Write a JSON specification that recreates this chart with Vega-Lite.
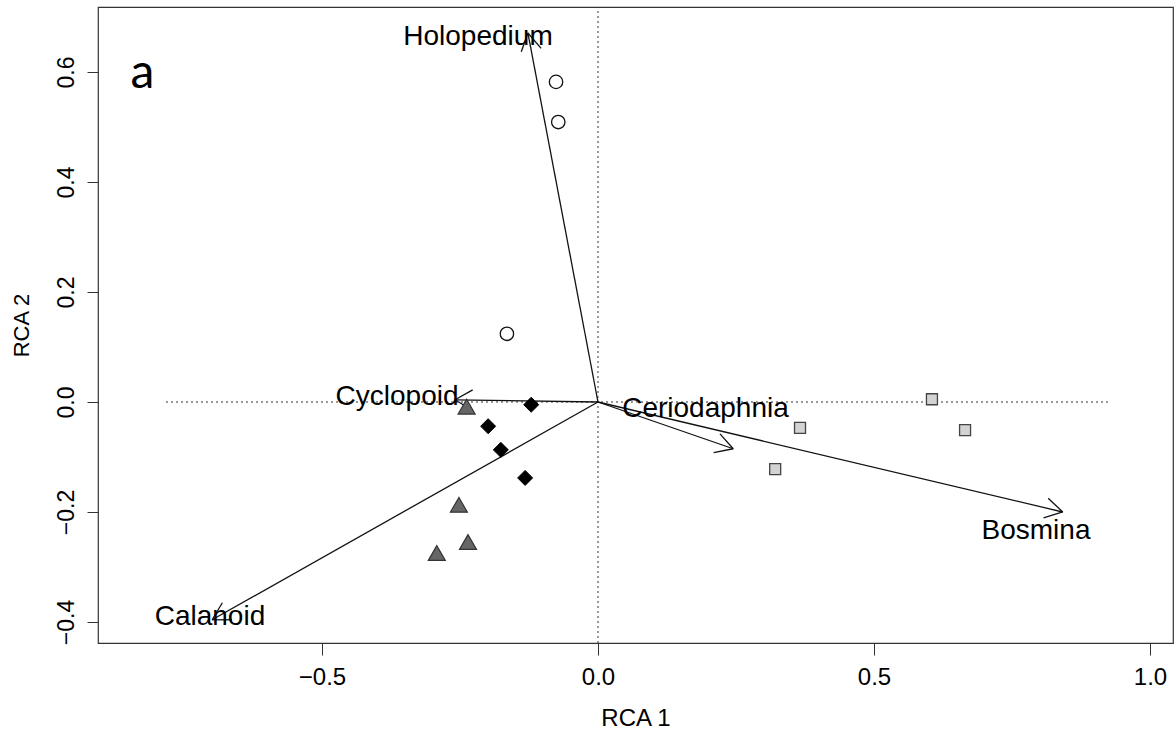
{
  "$schema": "https://vega.github.io/schema/vega-lite/v6.json",
  "width": 1075,
  "height": 636,
  "autosize": {"type": "none"},
  "padding": {"left": 98, "top": 7, "right": 2, "bottom": 91},
  "background": "white",
  "config": {
    "font": "Liberation Sans",
    "view": {"stroke": "#333", "strokeWidth": 1.2}
  },
  "datasets": {
    "sites": [
      {"group": "A", "x": -0.076, "y": 0.582},
      {"group": "A", "x": -0.072, "y": 0.509},
      {"group": "A", "x": -0.165, "y": 0.124},
      {"group": "B", "x": 0.605, "y": 0.005},
      {"group": "B", "x": 0.366, "y": -0.047},
      {"group": "B", "x": 0.665, "y": -0.051},
      {"group": "B", "x": 0.321, "y": -0.122},
      {"group": "C", "x": -0.121, "y": -0.005},
      {"group": "C", "x": -0.199, "y": -0.044},
      {"group": "C", "x": -0.176, "y": -0.087},
      {"group": "C", "x": -0.132, "y": -0.138},
      {"group": "D", "x": -0.238, "y": -0.0085},
      {"group": "D", "x": -0.252, "y": -0.187},
      {"group": "D", "x": -0.2355, "y": -0.2545},
      {"group": "D", "x": -0.292, "y": -0.2745}
    ],
    "vectors": [
      {"species": "Holopedium", "part": "shaft", "x": 0, "y": 0, "x2": -0.127, "y2": 0.671},
      {"species": "Holopedium", "part": "barb", "x": -0.127, "y": 0.671, "x2": -0.139, "y2": 0.637},
      {"species": "Holopedium", "part": "barb", "x": -0.127, "y": 0.671, "x2": -0.103, "y2": 0.643},
      {"species": "Cyclopoid", "part": "shaft", "x": 0, "y": 0, "x2": -0.259, "y2": 0.004},
      {"species": "Cyclopoid", "part": "barb", "x": -0.259, "y": 0.004, "x2": -0.228, "y2": -0.015},
      {"species": "Cyclopoid", "part": "barb", "x": -0.259, "y": 0.004, "x2": -0.227, "y2": 0.022},
      {"species": "Ceriodaphnia", "part": "shaft", "x": 0, "y": 0, "x2": 0.245, "y2": -0.085},
      {"species": "Ceriodaphnia", "part": "barb", "x": 0.245, "y": -0.085, "x2": 0.221, "y2": -0.058},
      {"species": "Ceriodaphnia", "part": "barb", "x": 0.245, "y": -0.085, "x2": 0.2095, "y2": -0.092},
      {"species": "Bosmina", "part": "shaft", "x": 0, "y": 0, "x2": 0.842, "y2": -0.2},
      {"species": "Bosmina", "part": "barb", "x": 0.842, "y": -0.2, "x2": 0.8156, "y2": -0.1751},
      {"species": "Bosmina", "part": "barb", "x": 0.842, "y": -0.2, "x2": 0.8072, "y2": -0.2105},
      {"species": "Calanoid", "part": "shaft", "x": 0, "y": 0, "x2": -0.699, "y2": -0.396},
      {"species": "Calanoid", "part": "barb", "x": -0.699, "y": -0.396, "x2": -0.663, "y2": -0.396},
      {"species": "Calanoid", "part": "barb", "x": -0.699, "y": -0.396, "x2": -0.6805, "y2": -0.365}
    ],
    "labels": [
      {"label": "Holopedium", "x": -0.2174, "y": 0.649},
      {"label": "Cyclopoid", "x": -0.364, "y": -0.0055},
      {"label": "Ceriodaphnia", "x": 0.1947, "y": -0.0273},
      {"label": "Bosmina", "x": 0.7935, "y": -0.249},
      {"label": "Calanoid", "x": -0.703, "y": -0.4055}
    ],
    "guides": [
      {"x": -0.7826, "y": 0, "x2": 0.924, "y2": 0},
      {"x": 0, "y": -0.4382, "x2": 0, "y2": 0.713}
    ],
    "panel": [
      {"label": "a", "x": -0.8252, "y": 0.571}
    ]
  },
  "encoding": {
    "x": {
      "field": "x",
      "type": "quantitative",
      "scale": {"domain": [-0.9058, 1.0417], "nice": false, "zero": false},
      "axis": {
        "title": "RCA 1",
        "values": [-0.5, 0, 0.5, 1.0],
        "format": ".1f",
        "grid": false,
        "domain": false,
        "ticks": true,
        "tickSize": 12,
        "tickColor": "#333",
        "tickWidth": 1,
        "labelFont": "Liberation Sans",
        "labelFontSize": 24,
        "labelColor": "#000",
        "labelPadding": 10,
        "labelFlush": false,
        "labelOverlap": false,
        "titleFont": "Liberation Sans",
        "titleFontSize": 24,
        "titleFontWeight": "normal",
        "titleColor": "#000",
        "titlePadding": 17
      }
    },
    "y": {
      "field": "y",
      "type": "quantitative",
      "scale": {"domain": [-0.4382, 0.7182], "nice": false, "zero": false},
      "axis": {
        "title": "RCA 2",
        "values": [-0.4, -0.2, 0, 0.2, 0.4, 0.6],
        "format": ".1f",
        "grid": false,
        "domain": false,
        "ticks": true,
        "tickSize": 11,
        "tickColor": "#333",
        "tickWidth": 1,
        "labelAngle": -90,
        "labelAlign": "center",
        "labelBaseline": "bottom",
        "labelFont": "Liberation Sans",
        "labelFontSize": 23,
        "labelColor": "#000",
        "labelPadding": 9,
        "labelFlush": false,
        "labelOverlap": false,
        "titleFont": "Liberation Sans",
        "titleFontSize": 22,
        "titleFontWeight": "normal",
        "titleColor": "#000",
        "titlePadding": 22
      }
    }
  },
  "layer": [
    {
      "data": {"name": "guides"},
      "mark": {"type": "rule", "color": "#333", "strokeWidth": 1, "strokeDash": [2, 3]},
      "encoding": {"x2": {"field": "x2"}, "y2": {"field": "y2"}}
    },
    {
      "data": {"name": "vectors"},
      "mark": {"type": "rule", "color": "#111", "strokeWidth": 1.3},
      "encoding": {"x2": {"field": "x2"}, "y2": {"field": "y2"}}
    },
    {
      "data": {"name": "sites"},
      "transform": [{"filter": "datum.group === 'A'"}],
      "mark": {"type": "point", "shape": "circle", "filled": true, "fill": "white", "stroke": "#111", "strokeWidth": 1.3, "size": 180, "opacity": 1}
    },
    {
      "data": {"name": "sites"},
      "transform": [{"filter": "datum.group === 'B'"}],
      "mark": {"type": "point", "shape": "square", "filled": true, "fill": "#d3d3d3", "stroke": "#444", "strokeWidth": 1.3, "size": 121, "opacity": 1}
    },
    {
      "data": {"name": "sites"},
      "transform": [{"filter": "datum.group === 'C'"}],
      "mark": {"type": "point", "shape": "diamond", "filled": true, "fill": "#000", "stroke": "#000", "strokeWidth": 1, "size": 225, "opacity": 1}
    },
    {
      "data": {"name": "sites"},
      "transform": [{"filter": "datum.group === 'D'"}],
      "mark": {"type": "point", "shape": "triangle-up", "filled": true, "fill": "#666", "stroke": "#333", "strokeWidth": 1.2, "size": 289, "opacity": 1}
    },
    {
      "data": {"name": "labels"},
      "mark": {"type": "text", "font": "Liberation Sans", "fontSize": 28, "align": "center", "baseline": "alphabetic", "color": "#000"},
      "encoding": {"text": {"field": "label"}}
    },
    {
      "data": {"name": "panel"},
      "mark": {"type": "text", "font": "Lato", "fontSize": 48, "align": "center", "baseline": "alphabetic", "color": "#000"},
      "encoding": {"text": {"field": "label"}}
    }
  ]
}
